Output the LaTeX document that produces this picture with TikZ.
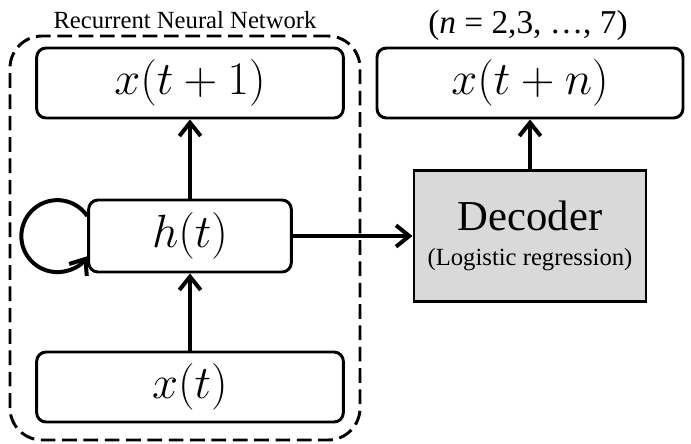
\RequirePackage{fix-cm}
\documentclass[tikz,border=0pt]{standalone}
\usepackage{fontspec}
\setmainfont{Liberation Serif}
\usetikzlibrary{arrows.meta,positioning}
\definecolor{decgray}{RGB}{217,217,217}

\begin{document}
\begin{tikzpicture}[
    x=0.75pt, y=-0.75pt,
    box/.style={draw, rounded corners=7pt, line width=2.2pt, minimum width=230pt,
                minimum height=52.5pt, inner sep=0pt, font=\fontsize{35}{40}\selectfont},
    frame/.style={draw, dashed, dash pattern=on 11pt off 5pt, rounded corners=24pt,
                  line width=2.2pt, minimum width=262.5pt, minimum height=303pt},
    arr/.style={-{Straight Barb[length=10pt,width=16pt]}, line width=3pt}
]
\useasboundingbox (0,0) rectangle (691,443);
\node[frame] (rnn) at (185,238) {};
\node[font=\fontsize{18.5}{20}\selectfont] (rnnlbl) at (185,20) {Recurrent Neural Network};
\node[box] (xt1) at (190,83) {$x(t+1)$};
\node[box, minimum width=152pt, minimum height=54pt] (ht) at (190,236) {$h(t)$};
\node[box] (xt) at (190,387) {$x(t)$};
\node[box, minimum width=229.5pt] (xtn) at (530,83) {$x(t+n)$};
\node[draw, fill=decgray, line width=2.2pt, minimum width=174pt, minimum height=98pt,
      align=center, inner sep=0pt] (dec) at (530,236)
      {{\fontsize{32}{36}\selectfont Decoder}\\[12pt]{\fontsize{18.5}{20}\selectfont (Logistic regression)}};
\node[font=\fontsize{25}{28}\selectfont] (nlbl) at (528,25) {(\textit{n} = 2,3, …, 7)};
\draw[arr] (xt) -- (ht);
\draw[arr] (ht) -- (xt1);
\draw[arr] (ht) -- (dec);
\draw[arr] (dec) -- (xtn);
% self loop on h(t)
\draw[arr] ([yshift=15pt]ht.west) arc[start angle=34, end angle=326, radius=27pt];
\end{tikzpicture}
\end{document}
